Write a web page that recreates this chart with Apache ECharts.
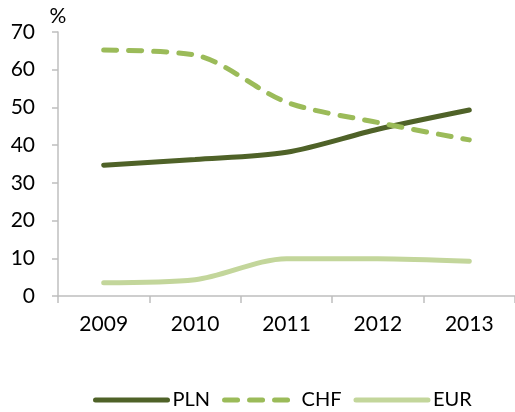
<!DOCTYPE html>
<html><head><meta charset="utf-8">
<script src="https://cdn.jsdelivr.net/npm/echarts@6/dist/echarts.min.js"></script>
<style>html,body{margin:0;padding:0;background:#fff}#c{width:515px;height:412px}</style>
</head><body><div id="c"></div>
<script>
var years = ['2009','2010','2011','2012','2013'];
var pln = [34.7, 36.2, 38.1, 44.2, 49.3];
var chf = [65.2, 63.9, 51.4, 46.0, 41.4];
var eur = [3.5, 4.3, 9.9, 9.9, 9.2];
var yTicks = [0, 10, 20, 30, 40, 50, 60, 70];

var FONT = 'Lato';
var chart = echarts.init(document.getElementById('c'));
chart.setOption({
  animation: false,
  textStyle: {fontFamily: FONT},
  grid: {left: 58, top: 32, right: -9, bottom: 116},
  xAxis: {
    type: 'category', data: years, boundaryGap: true,
    axisLine: {lineStyle: {color: '#BFBFBF', width: 1.5}},
    axisTick: {show: true, length: 7, lineStyle: {color: '#BFBFBF', width: 1.5}},
    axisLabel: {color: '#000', fontSize: 21, fontFamily: FONT, margin: 18}
  },
  yAxis: {
    type: 'value', min: yTicks[0], max: yTicks[yTicks.length-1], interval: 10,
    name: '%', nameLocation: 'end', nameGap: 5,
    nameTextStyle: {color: '#000', fontSize: 21, fontFamily: FONT, align: 'center'},
    axisLine: {show: true, lineStyle: {color: '#BFBFBF', width: 1.5}},
    axisTick: {show: true, length: 6, lineStyle: {color: '#BFBFBF', width: 1.5}},
    splitLine: {show: false},
    axisLabel: {color: '#000', fontSize: 21, fontFamily: FONT, margin: 23}
  },
  legend: {
    bottom: -3, left: 88, itemWidth: 72, itemHeight: 12, itemGap: 12,
    textStyle: {color: '#000', fontSize: 20, fontFamily: FONT},
    itemStyle: {opacity: 0},
    lineStyle: {width: 5, cap: 'round'},
    data: ['PLN', 'CHF', 'EUR']
  },
  series: [
    {name: 'PLN', type: 'line', data: pln, smooth: 0.3, symbol: 'none',
     lineStyle: {color: '#4F6228', width: 5, cap: 'round'}, itemStyle: {color: '#4F6228'}},
    {name: 'CHF', type: 'line', data: chf, smooth: 0.3, symbol: 'none',
     lineStyle: {color: '#9BBB59', width: 5, cap: 'round', type: [13, 12]}, itemStyle: {color: '#9BBB59'}},
    {name: 'EUR', type: 'line', data: eur, smooth: 0.3, symbol: 'none',
     lineStyle: {color: '#C3D69B', width: 5, cap: 'round'}, itemStyle: {color: '#C3D69B'}}
  ]
});
</script></body></html>
